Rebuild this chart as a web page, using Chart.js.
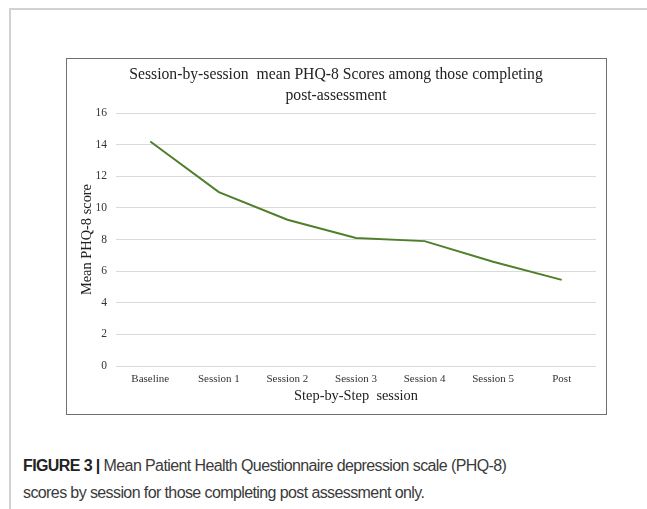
<!DOCTYPE html>
<html>
<head>
<meta charset="utf-8">
<script src="https://cdn.jsdelivr.net/npm/chart.js@4.4.1/dist/chart.umd.min.js"></script>
<style>
  html, body { margin: 0; padding: 0; background: #fff; }
  body { width: 647px; height: 509px; position: relative; overflow: hidden; }
  .frame {
    position: absolute; left: 9px; top: 8px; right: -2px; bottom: -2px;
    border-top: 2px solid #d2d2d2; border-left: 2px solid #d2d2d2;
  }
  .box {
    position: absolute; left: 66px; top: 58px; width: 539px; height: 355px;
    border: 1px solid #707070;
  }
  .box canvas { display: block; }
  .caption {
    position: absolute; left: 23px; top: 452px; width: 490px;
    font-family: "Liberation Sans", Arial, sans-serif; font-size: 16px;
    line-height: 27px; color: #3a3a3a; letter-spacing: -0.6px;
  }
  .caption b { color: #222; }
</style>
</head>
<body>
<div class="frame"></div>
<div class="box"><canvas id="phqChart" width="539" height="355"></canvas></div>
<div class="caption"><b>FIGURE 3 |</b> Mean Patient Health Questionnaire depression scale (PHQ-8) scores by session for those completing post assessment only.</div>

<script>
// data
const sessions = ['Baseline', 'Session 1', 'Session 2', 'Session 3', 'Session 4', 'Session 5', 'Post'];
const meanScores = [14.2, 11.0, 9.25, 8.1, 7.9, 6.6, 5.45];
const yTicks = [0, 2, 4, 6, 8, 10, 12, 14, 16];

const serif = '"Liberation Serif", "Times New Roman", serif';

document.addEventListener('DOMContentLoaded', function() {
    const ctx = document.getElementById('phqChart');
    new Chart(ctx, {
        type: 'line',
        data: {
            labels: sessions,
            datasets: [{
                label: 'Mean PHQ-8 score',
                data: meanScores,
                borderColor: '#4f7f2a',
                borderWidth: 2,
                pointRadius: 0,
                tension: 0,
                fill: false
            }]
        },
        options: {
            responsive: false,
            animation: false,
            layout: { padding: { top: 0, right: 10, bottom: 9, left: 9 } },
            plugins: {
                legend: { display: false },
                tooltip: { enabled: false },
                title: {
                    display: true,
                    text: ['Session-by-session  mean PHQ-8 Scores among those completing', 'post-assessment'],
                    color: '#222',
                    font: { family: serif, size: 15.7, weight: 'normal', lineHeight: 1.34 },
                    padding: { top: 5, bottom: 7 }
                }
            },
            scales: {
                x: {
                    offset: true,
                    afterFit: function(scale) { scale.height = 39; },
                    grid: { display: false, drawTicks: false },
                    border: { display: false },
                    ticks: { color: '#333', font: { family: serif, size: 11 }, padding: 7 },
                    title: {
                        display: true,
                        text: 'Step-by-Step  session',
                        color: '#222',
                        font: { family: serif, size: 14.4 },
                        padding: { top: 0, bottom: 0 }
                    }
                },
                y: {
                    min: 0,
                    max: 16,
                    afterFit: function(scale) { scale.width = 40; },
                    afterBuildTicks: function(scale) {
                        scale.ticks = yTicks.map(v => ({ value: v }));
                    },
                    grid: { color: '#dadada', lineWidth: 1, drawTicks: false },
                    border: { display: false },
                    ticks: { color: '#333', font: { family: serif, size: 11.5 }, padding: 9 },
                    title: {
                        display: true,
                        text: 'Mean PHQ-8 score',
                        color: '#222',
                        font: { family: serif, size: 14.4 },
                        padding: { top: 2.4, bottom: 0 }
                    }
                }
            }
        }
    });
});
</script>
</body>
</html>
